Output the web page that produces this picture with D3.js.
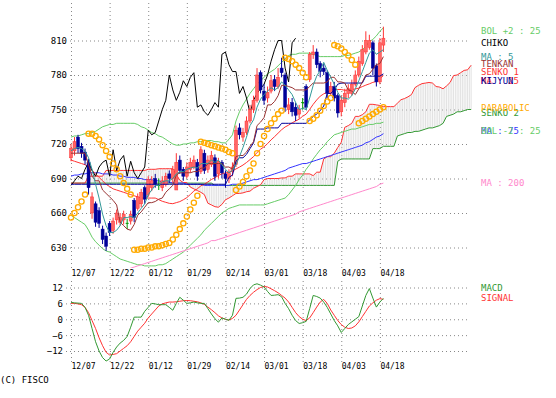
<!DOCTYPE html>
<html><head><meta charset="utf-8">
<script src="https://cdn.jsdelivr.net/npm/d3@7"></script>
<style>body{margin:0;background:#fff}svg{display:block}</style>
</head><body><svg id="c" width="556" height="398"></svg>
<script>
const dates=["12/07","12/22","01/12","01/29","02/14","03/01","03/18","04/03","04/18"];
const dateIdx=[0,11,22,33,44,55,66,77,88];
const priceTicks=[630,660,690,720,750,780,810];
const macdTicks=[-12,-6,0,6,12];
const open=[708,714,726,718,713,704,660,668,662,646,640,651,645,654,652,654,650,653,671,664,668,682,676,682,690,684,682,685,694,690,680,706,698,692,698,700,704,696,712,698,702,708,694,704,694,690,696,702,734,726,730,740,750,758,782,766,760,766,776,770,786,780,750,756,752,746,755,770,776,798,800,790,786,782,764,770,762,748,756,764,764,772,780,790,800,804,808,788,774,806];
const high=[720,726,728,721,716,707,678,670,665,649,643,653,656,663,660,662,655,662,673,677,681,684,692,692,694,690,692,695,697,701,712,710,700,704,708,710,707,718,715,710,714,711,708,706,697,698,704,736,738,734,744,754,762,786,784,772,770,780,780,786,795,782,760,760,756,754,760,772,800,806,803,792,790,784,774,774,764,762,768,772,776,784,796,806,818,815,810,790,812,822];
const low=[705,710,712,708,702,676,655,648,647,633,627,640,642,650,649,650,646,650,652,662,665,668,674,679,682,680,679,683,686,686,680,694,688,690,695,698,688,694,694,695,700,688,690,690,682,686,692,700,724,722,728,738,747,756,764,754,756,764,766,768,778,748,746,744,740,742,750,750,774,794,786,778,780,760,762,757,743,744,752,760,762,770,778,788,798,802,780,770,772,800];
const close=[716,722,716,712,706,682,674,652,651,637,631,643,653,660,656,659,651,659,656,674,678,672,689,688,685,684,688,692,690,698,704,697,692,700,704,706,692,715,697,706,710,692,705,695,690,695,700,732,728,730,740,750,758,780,767,758,765,775,770,778,782,752,754,748,745,750,756,752,798,800,789,783,783,764,770,760,747,758,764,768,772,780,792,802,810,810,786,774,808,812];
const ma5=[714,716,717,716,714,708,698,685,673,659,649,643,643,645,649,656,656,657,656,660,664,668,676,680,684,684,687,688,688,690,694,696,696,698,699,700,699,703,703,703,706,704,706,702,698,695,697,702,709,717,726,736,741,752,759,763,766,769,767,769,774,771,767,763,756,750,751,750,760,771,779,784,791,784,778,772,765,760,760,759,762,768,775,783,791,799,802,798,800,802];
const ma25=[706,705,704,703,702,700,697,694,691,688,685,683,681,680,679,678,677,676,675,674,673,673,673,673,673,671.6,670.2,669.3,668.4,668.1,669,669.9,671.5,673.4,676.1,679.1,681.1,683.6,685,687,689.1,690.7,692.6,694.1,694.8,695.4,696.6,698.3,699.9,701.7,703.9,706.4,709,712.6,715.4,717.6,720.3,723.6,726.4,729.4,732.4,734.8,736.4,738.4,740,741.6,744.1,746,750.1,754.5,758.3,761.6,763.6,765.1,766.7,767.5,767.4,767.4,766.7,766.8,767.3,767.9,768.6,769.9,771.2,772.3,773.6,774.4,776.8,779.5];
const ma75=[692,693,693,694,694,695,695,695,695,694,694,694,693,693,692,692,691,691,691,690,690,689,689,689,688,688,687,687,687,686,686,686,686,685,685,685,685,685,684,684,684,684,684,684,684,684,685,685,685,686,687,688,689,689,690,691,692,693,694,695,696,697,699,700,701,702,703,703,704,705,706,707,708,709,710,711,712,713,714,715,716,717,718,719,721,722,724,726,727,729];
const ma200=[595,596,597,598,599,600,601,602,603,604,605,606,607,608,609,610,611,612,613,614,615,616,617,618,619,620,621,622,623,624,625,626,627,628,629,630,631,632,633,634,636,636,637,638,639,640,641,642,643,644,645,646,647,648,649,650,651,652,653,654,655,656,657,658,659,661,662,663,664,665,666,667,668,669,670,671,672,673,674,675,676,677,678,679,680,681,682,683,685,686];
const bolUp=[726,727,727,728,729,729,730,731,733,735,736,737,737,738,738,738,738,738,738,737,735,734,732,730,729,727,726,724,722,720,719,719,720,720,721,721,722,722,723,723,723,722,722,721,721,724,728,740,748,754,759,764,768,772,775,778,781,783,785,788,791,794,797,798,798,799,799,799,799,798,797,796,796,796,796,796,796,796,797,797,798,799,800,802,805,809,811,814,818,821];
const bolDn=[658,656,654,652,650,645,639,635,632,629,627,626,624,622,620,619,618,617,616,615,615,614,614,614,614,615,615,616,618,620,622,624,626,629,632,635,638,641,645,648,651,654,657,660,662,664,665,666,667,667,667,667,667,667,667,667,668,669,670,671,672,673,676,680,684,689,693,698,702,707,711,715,718,722,725,728,729,730,731,732,733,733,734,735,736,737,737,738,738,739];
const tenkan=[712,712,712,712,712,702,692,688,688,680,677,674,671,667,652,649,646,645,650,658,661,665,669,669,670,672,673,678,681,684,693,695,695,695,695,696,696,699,699,703,703,703,703,703,700,700,698,709,710,710,713,718,722,736,739,743,754,754,757,762,771,771,770,769,767,767,767,767,770,773,773,773,773,774,778,778,774,774,773,767,766,763,768,774,780,781,785,789,790,796];
const kijun=[685,685,685,685,685,685,685,685,685,685,685,685,685,685,685,685,685,685,685,685,685,685,685,685,685,685,685,685,685,685,685,685,685,685,685,685,685,685,685,685,685,685,685,685,685,691,693,705,708,708,711,716,721,733,733,733,734,734,734,734,738,738,738,738,738,738,738,738,741,744,746,749,753,764,764,767,772,773,773,773,773,773,773,773,779,779,779,779,779,781];
const chiko=[684,688,692,690,698,704,697,692,700,704,706,692,715,697,706,710,692,705,695,690,695,700,732,728,730,740,750,758,780,767,758,765,775,770,778,782,752,754,748,745,750,756,752,798,800,789,783,783,764,770,760,747,758,764,768,772,780,792,802,810,810,786,774,808,812];
const senko1=[686,686,686,686,686,692,692,692,692,692,697,697,697,697,697,697,697,697,697,697,697,697,698,698,698,698.5,698.5,698.5,698.5,698.5,693.5,688.5,686.5,686.5,682.5,681,679.5,678,676,668.5,667,665.5,665,667.5,671.5,673,675,677,677,677.5,678.5,679,681.5,683,684.5,689,690,690,690,690,690.5,690.5,692,692,694,694,694,694,694,692.5,695.5,695.5,707,709,709,712,717,721.5,734.5,736,738,744,744,745.5,748,754.5,754.5,754,753.5,752.5,752.5,752.5,752.5,755.5,758.5,759.5,761,763,769,771,772.5,773,773.5,773,770,769.5,768,770.5,773.5,779.5,780,782,784,784.5,788.5];
const senko2=[686,686,686,686,686,686,686,686,686,686,686,686,686,686,686,686,686,686,686,686,686,686,686,686,686,686,686,686,686,686,686,686,686,686,686,686,686,686,686,686,686,684,684,684,684,684,684,684,684,684,684,684,684,684,684,684,684,684,684,684,684,684,684,684,684,684,684,684,684,684,684,684,684,684,684,684,705,707,707,707,707,707,707,707,707,707,716,716,716,718,718,718,718,727,728,729,730,730,731,731,732,733,734,734,735,736,738,744,745,746,748,748,749,750,750];
const sar=[656,660,665,670,676,729,729,727,724,719,714,709,703,698,692,686,681,676,628,628,629,629,630,630,631,631,632,633,634,637,641,646,651,657,663,669,675,722,721,720,719,718,717,716,715,713,712,680,683,687,692,697,703,712,720,727,733,738,742,746,749,795,794,792,789,786,782,778,740,742,745,749,753,757,760,806,805,803,800,797,793,789,738,740,742,744,746,748,750,752];
const macd=[6.4,6.2,6.1,6.0,4.5,1.5,-3.5,-8.5,-12,-14.5,-15.8,-15,-12.5,-10.5,-9,-8,-6.5,-3,0.8,0.8,0.8,3,4.5,6,5.8,5.5,5.5,5.5,4.5,3.4,6,8.3,7.2,6,6.2,6.5,6.2,6,6,4,2,0.2,-1.1,0.5,0,-0.4,1.5,7.9,8,8.3,9.5,11.6,13,13.4,12.9,12.2,10.5,9,9.1,9.3,8.5,6,4,1.5,-0.5,-1.6,-1.3,-0.8,4,9,8.6,8,6.5,4.5,2,-0.5,-2.5,-5,-3.5,-2,-1,0,1,5,9,11.6,8,4.6,6.5,7.9];
const signal=[6.0,6.0,5.8,5.5,4.5,2.5,-0.5,-3.5,-7,-10,-12.5,-13.5,-13.3,-13,-12,-11,-10,-8.5,-6.5,-4.5,-3,-1.5,0.5,2,3.5,5,5.8,6.2,6.5,6.5,6.6,6.8,7,7.1,7,6.8,6.6,6.2,5.6,4.6,3.6,2.5,1.3,0.5,0,-0.3,0.3,1.5,3.5,5.5,7.5,9,10.2,11.2,12,12.4,12.2,11.5,10.8,10,9,8,6.5,4.5,2.5,1,0,-0.5,0.5,2.5,4.6,6.5,7.5,6,3.5,1.5,-0.5,-2,-3,-3.5,-3.3,-2.5,-1,1,3,5,6.2,7.2,7.8,7.5];

const legend=[
 ["BOL +2 : 25","#66cc66",34],["CHIKO","#000000",46],["MA : 5","#339999",60],["TENKAN","#993333",67],
 ["SENKO 1","#ff3333",75],["MA : 25","#ff3333",84],["KIJYUN","#000099",84],["SENKO 2","#339933",116],
 ["PARABOLIC","#ffaa00",111],["MA : 75","#3333ff",134],["BOL -2 : 25","#66cc66",134],["MA : 200","#ff88cc",186],
 ["MACD","#339933",291],["SIGNAL","#ff3333",301]];

const FONT="DejaVu Sans Mono";
const svg=d3.select("#c");
const x=d3.scaleLinear().domain([0,114]).range([71,71+114*3.51]);
const y=d3.scaleLinear().domain([630,810]).range([247.5,40.5]);
const ym=d3.scaleLinear().domain([-12,12]).range([351,287.5]);
const GRID="#888";
const defs=svg.append("defs");
defs.append("clipPath").attr("id","cm").append("rect").attr("x",66).attr("y",0).attr("width",410).attr("height",268);
defs.append("clipPath").attr("id","cd").append("rect").attr("x",66).attr("y",280).attr("width",410).attr("height",84);

function styleAxis(g,size){g.select(".domain").remove();g.attr("font-family",FONT).attr("font-size",size);
 g.selectAll("line").attr("stroke",GRID).attr("stroke-dasharray","1,3");g.selectAll("text").attr("fill","#000");}
styleAxis(svg.append("g").attr("transform","translate(70,0)").call(d3.axisLeft(y).tickValues(priceTicks).tickSize(-400).tickPadding(3)),9);
styleAxis(svg.append("g").attr("transform","translate(66,0)").call(d3.axisLeft(ym).tickValues(macdTicks).tickSize(-404).tickPadding(3)),9);
const gx1=svg.append("g").attr("transform","translate(0,268)").call(d3.axisBottom(x).tickValues(dateIdx).tickFormat((d,i)=>dates[i]).tickSize(-268).tickPadding(2));
styleAxis(gx1,8);gx1.attr("text-anchor","start");
const gx2=svg.append("g").attr("transform","translate(0,362)").call(d3.axisBottom(x).tickValues(dateIdx).tickFormat((d,i)=>dates[i]).tickSize(-82).tickPadding(1));
styleAxis(gx2,8);gx2.attr("text-anchor","start");

const main=svg.append("g").attr("clip-path","url(#cm)");
const hatch=[];
for(let t=0;t<=114*2;t++){const i=t/2,a=Math.floor(i),b=Math.min(a+1,114),f=i-a;
 const s1=senko1[a]+(senko1[b]-senko1[a])*f,s2=senko2[a]+(senko2[b]-senko2[a])*f;hatch.push([i,s1,s2]);}
main.append("g").selectAll("line").data(hatch).join("line").attr("x1",d=>x(d[0])).attr("x2",d=>x(d[0]))
 .attr("y1",d=>y(d[1])).attr("y2",d=>y(d[2])).attr("stroke","#cccccc").attr("stroke-width",0.6);

const line=d3.line().x((d,i)=>x(i)).y(d=>y(d));
function drawLine(arr,col,w){main.append("path").datum(arr).attr("d",line).attr("fill","none").attr("stroke",col).attr("stroke-width",w||1);}
drawLine(senko2,"#339933");drawLine(senko1,"#ff3333");
drawLine(bolUp,"#66cc66");drawLine(bolDn,"#66cc66");
drawLine(ma200,"#ff88cc");drawLine(ma75,"#3333ff");drawLine(ma25,"#ff3333");
drawLine(chiko,"#000000");
const cg=main.append("g");
close.forEach((c,i)=>{const o=open[i],up=c>=o,doji=Math.abs(c-o)<=1.5;
 const col=doji?"#009900":(up?"#ff3333":"#000099");
 cg.append("line").attr("x1",x(i)).attr("x2",x(i)).attr("y1",y(high[i])).attr("y2",y(low[i])).attr("stroke",col).attr("stroke-width",1);
 if(doji){cg.append("line").attr("x1",x(i)-1.5).attr("x2",x(i)+1.5).attr("y1",y(c)).attr("y2",y(c)).attr("stroke",col);}
 else{const t=y(Math.max(o,c)),b=y(Math.min(o,c));
  cg.append("rect").attr("x",x(i)-1.5).attr("width",3).attr("y",t).attr("height",Math.max(1,b-t))
   .attr("fill",up?"#ff6666":"#000099").attr("stroke",up?"#ff3333":"#000099").attr("stroke-width",0.5);}
});
drawLine(kijun,"#000099");drawLine(tenkan,"#993333");drawLine(ma5,"#339999");
main.append("g").selectAll("circle").data(sar).join("circle").attr("cx",(d,i)=>x(i)).attr("cy",d=>y(d)).attr("r",2.6)
 .attr("fill","none").attr("stroke","#ffaa00").attr("stroke-width",1.3);

const sub=svg.append("g").attr("clip-path","url(#cd)");
const ml=d3.line().x((d,i)=>x(i)).y(d=>ym(d));
sub.append("path").datum(signal).attr("d",ml).attr("fill","none").attr("stroke","#ff3333");
sub.append("path").datum(macd).attr("d",ml).attr("fill","none").attr("stroke","#339933");

svg.append("g").attr("font-family",FONT).attr("font-size",9).selectAll("text").data(legend).join("text")
 .attr("x",481).attr("y",d=>d[2]).attr("fill",d=>d[1]).text(d=>d[0]);
svg.append("text").attr("x",0).attr("y",383).attr("font-family",FONT).attr("font-size",9).attr("fill","#000").text("(C) FISCO");
</script></body></html>
